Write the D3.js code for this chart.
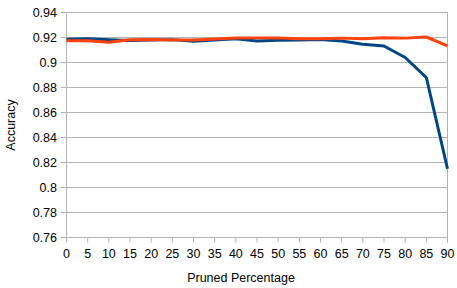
<!DOCTYPE html>
<html>
<head>
<meta charset="utf-8">
<script src="https://cdn.jsdelivr.net/npm/d3@7"></script>
<style>
  body { margin: 0; background: #fff; }
  text { font-family: "Liberation Sans", Arial, sans-serif; fill: #000; }
</style>
</head>
<body>
<svg id="chart" width="457" height="288"></svg>
<script>
const pruned = [0, 5, 10, 15, 20, 25, 30, 35, 40, 45, 50, 55, 60, 65, 70, 75, 80, 85, 90];
const seriesBlue = [0.9187, 0.919, 0.9182, 0.9176, 0.918, 0.9183, 0.917, 0.918, 0.919, 0.9172, 0.9178, 0.918, 0.9183, 0.9172, 0.9146, 0.9132, 0.904, 0.888, 0.815];
const seriesOrange = [0.9174, 0.9174, 0.9162, 0.9182, 0.9184, 0.918, 0.918, 0.9188, 0.9196, 0.9197, 0.9197, 0.919, 0.919, 0.9195, 0.919, 0.9198, 0.9195, 0.9204, 0.9133];
const yTicks = [0.76, 0.78, 0.8, 0.82, 0.84, 0.86, 0.88, 0.9, 0.92, 0.94];

const svg = d3.select('#chart');
const plotLeft = 66.5, plotRight = 447.5, plotTop = 12.5, plotBottom = 237.5;
const grid = '#b3b3b3';

const x = d3.scaleLinear().domain([0, 90]).range([plotLeft, plotRight]);
const y = d3.scaleLinear().domain([0.76, 0.94]).range([plotBottom, plotTop]);

// horizontal gridlines
svg.append('g')
    .selectAll('line')
    .data(yTicks)
    .join('line')
    .attr('x1', plotLeft - 6).attr('x2', plotRight)
    .attr('y1', d => y(d)).attr('y2', d => y(d))
    .attr('stroke', grid).attr('stroke-width', 1);

// left and right borders
svg.append('line')
    .attr('x1', plotLeft).attr('x2', plotLeft).attr('y1', plotTop).attr('y2', plotBottom + 5)
    .attr('stroke', grid);
svg.append('line')
    .attr('x1', plotRight).attr('x2', plotRight).attr('y1', plotTop).attr('y2', plotBottom + 5)
    .attr('stroke', grid);

// x ticks
svg.append('g')
    .selectAll('line')
    .data(pruned)
    .join('line')
    .attr('x1', d => x(d)).attr('x2', d => x(d))
    .attr('y1', plotBottom).attr('y2', plotBottom + 5)
    .attr('stroke', grid);

// tick labels
svg.append('g')
    .selectAll('text')
    .data(yTicks)
    .join('text')
    .attr('x', 57).attr('y', d => y(d))
    .attr('dy', '0.35em')
    .attr('text-anchor', 'end')
    .attr('font-size', '12.5px')
    .text(d => +d.toFixed(2));

svg.append('g')
    .selectAll('text')
    .data(pruned)
    .join('text')
    .attr('x', d => x(d)).attr('y', 254)
    .attr('dy', '0.35em')
    .attr('text-anchor', 'middle')
    .attr('font-size', '12.5px')
    .text(d => d);

// axis titles
svg.append('text')
    .attr('x', 241).attr('y', 278).attr('dy', '0.35em')
    .attr('text-anchor', 'middle')
    .attr('font-size', '12.5px')
    .text('Pruned Percentage');

svg.append('text')
    .attr('transform', `translate(11,${(plotTop + plotBottom) / 2}) rotate(-90)`)
    .attr('dy', '0.35em')
    .attr('text-anchor', 'middle')
    .attr('font-size', '12.5px')
    .text('Accuracy');

// lines
const line = d3.line().x((d, i) => x(pruned[i])).y(d => y(d));

svg.append('path')
    .datum(seriesBlue)
    .attr('d', line)
    .attr('fill', 'none')
    .attr('stroke', '#004586')
    .attr('stroke-width', 3)
    .attr('stroke-linejoin', 'round');

svg.append('path')
    .datum(seriesOrange)
    .attr('d', line)
    .attr('fill', 'none')
    .attr('stroke', '#ff420e')
    .attr('stroke-width', 3)
    .attr('stroke-linejoin', 'round');
</script>
</body>
</html>
